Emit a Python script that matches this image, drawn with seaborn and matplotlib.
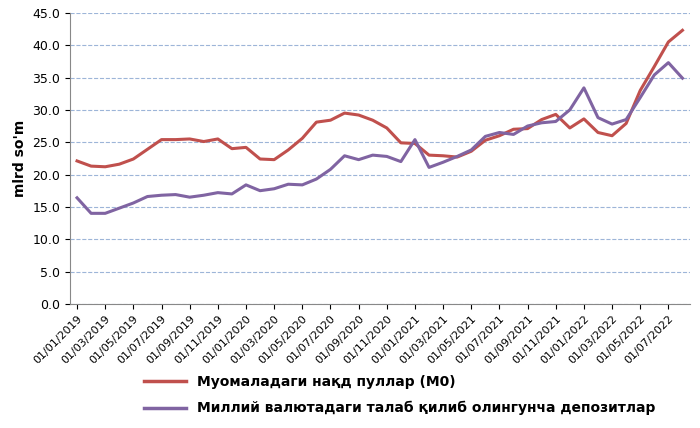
import pandas as pd
import matplotlib
matplotlib.use('Agg')
import matplotlib.pyplot as plt
import seaborn as sns

# Ma'lumotlar (oylik, 2019-01 .. 2022-08)
months = pd.date_range('2019-01-01', '2022-08-01', freq='MS')
m0 = [22.1, 21.3, 21.2, 21.6, 22.4, 23.9, 25.4, 25.4, 25.5, 25.1, 25.5, 24.0,
      24.2, 22.4, 22.3, 23.8, 25.6, 28.1, 28.4, 29.5, 29.2, 28.4, 27.2, 24.9,
      24.8, 23.0, 22.9, 22.7, 23.6, 25.3, 26.0, 27.0, 27.1, 28.5, 29.3, 27.2,
      28.6, 26.5, 26.0, 27.9, 33.0, 36.7, 40.5, 42.3]
deposits = [16.4, 14.0, 14.0, 14.8, 15.6, 16.6, 16.8, 16.9, 16.5, 16.8, 17.2, 17.0,
            18.4, 17.5, 17.8, 18.5, 18.4, 19.3, 20.8, 22.9, 22.3, 23.0, 22.8, 22.0,
            25.4, 21.1, 21.9, 22.8, 23.8, 25.9, 26.5, 26.2, 27.5, 28.0, 28.2, 30.0,
            33.4, 28.8, 27.8, 28.5, 31.9, 35.4, 37.3, 34.9]
name_m0 = "Муомаладаги нақд пуллар (M0)"
name_dep = "Миллий валютадаги талаб қилиб олингунча депозитлар"

df = pd.DataFrame({'sana': list(range(len(months))) * 2,
                   'qiymat': m0 + deposits,
                   'seriya': [name_m0] * len(m0) + [name_dep] * len(deposits)})

fig, ax = plt.subplots(figsize=(7, 4.28), dpi=100)
sns.lineplot(data=df, x='sana', y='qiymat', hue='seriya', ax=ax, linewidth=2.2,
             palette=['#C0504D', '#8064A2'])

ax.set_ylim(0, 45)
ax.set_yticks(range(0, 46, 5))
ax.set_yticklabels([f"{v:.1f}" for v in range(0, 46, 5)], fontsize=9)
ax.set_xlim(-0.5, len(months) - 0.5)
tick_pos = list(range(0, len(months), 2))
ax.set_xticks(tick_pos)
ax.set_xticklabels([months[i].strftime('%d/%m/%Y') for i in tick_pos],
                   rotation=45, ha='right', rotation_mode='anchor', fontsize=8)
ax.grid(axis='y', color='#9DB5D8', linestyle='--', linewidth=0.8)
ax.set_axisbelow(True)
for s in ['top', 'right']:
    ax.spines[s].set_visible(False)
ax.spines['left'].set_color('#888888')
ax.spines['bottom'].set_color('#888888')
ax.set_xlabel('')
ax.set_ylabel("mlrd so'm", fontsize=10, fontweight='bold')

leg = ax.legend(loc='upper left', bbox_to_anchor=(0.1, -0.2), frameon=False,
                prop={'weight': 'bold', 'size': 10}, handlelength=3, labelspacing=0.9)
for line in leg.get_lines():
    line.set_linewidth(2.5)

plt.subplots_adjust(left=0.1, right=0.985, top=0.97, bottom=0.29)
plt.savefig('out.png', dpi=100)
